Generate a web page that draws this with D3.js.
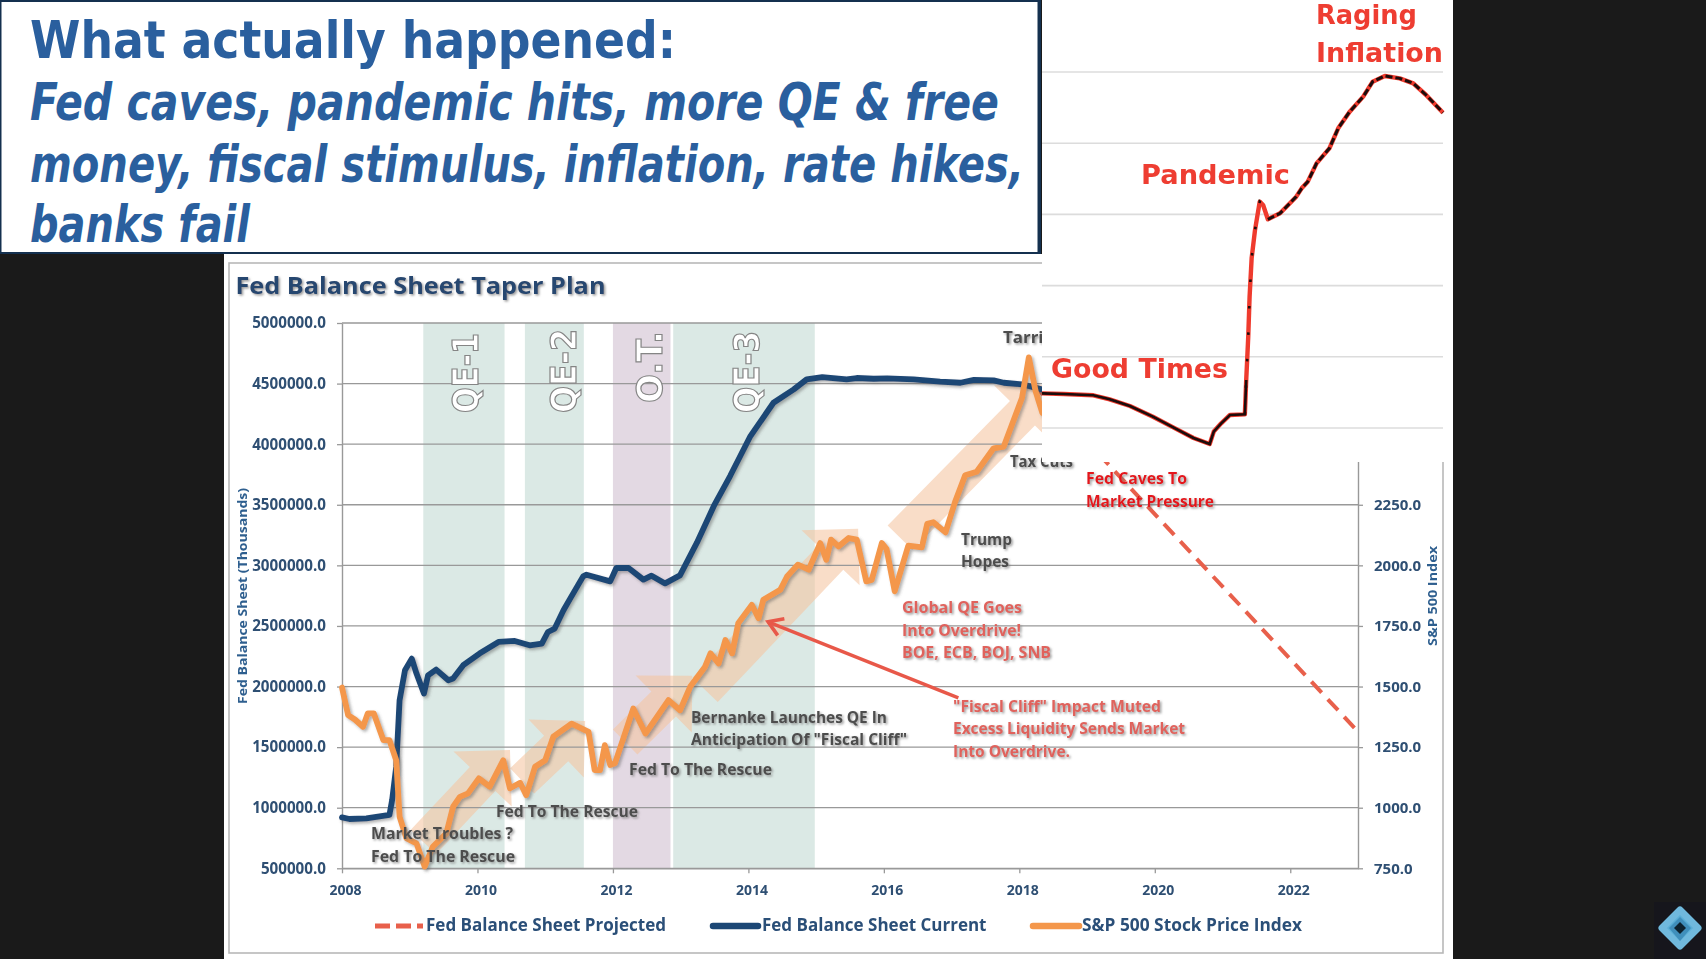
<!DOCTYPE html>
<html><head><meta charset="utf-8"><title>Fed Balance Sheet</title>
<script src="https://cdn.jsdelivr.net/npm/d3@7/dist/d3.min.js"></script>
<style>html,body{margin:0;padding:0;background:#1a1a1a;overflow:hidden}svg{display:block}</style>
</head><body><div id="c"></div>
<script>
// ---------- data ----------
const balanceYears=[2008,2008.11,2008.36,2008.7,2008.74,2008.8,2008.85,2008.93,2009.03,2009.1,2009.21,2009.27,2009.39,2009.57,2009.64,2009.79,2010.03,2010.31,2010.55,2010.77,2010.95,2011.04,2011.14,2011.27,2011.36,2011.56,2011.61,2011.96,2012.05,2012.23,2012.45,2012.57,2012.77,2012.99,2013.24,2013.49,2013.73,2014.03,2014.37,2014.67,2014.86,2015.09,2015.45,2015.6,2015.85,2016.05,2016.44,2016.83,2017.13,2017.33,2017.62,2017.77,2018.04,2018.33];
const balanceValues=[920,907,912,940,1063,1338,1887,2134,2230,2107,1942,2093,2140,2052,2066,2176,2272,2368,2376,2340,2354,2450,2478,2629,2717,2909,2923,2868,2978,2978,2882,2915,2851,2917,3187,3490,3737,4067,4342,4452,4535,4554,4535,4546,4540,4543,4535,4516,4507,4530,4527,4507,4494,4452];
const spYears=[2008,2008.09,2008.19,2008.31,2008.38,2008.47,2008.61,2008.7,2008.8,2008.85,2008.95,2009.1,2009.22,2009.34,2009.54,2009.64,2009.74,2009.86,2010.02,2010.18,2010.38,2010.48,2010.63,2010.72,2010.85,2011,2011.12,2011.39,2011.64,2011.73,2011.81,2011.88,2011.96,2012.03,2012.3,2012.48,2012.82,2012.99,2013.14,2013.36,2013.44,2013.56,2013.66,2013.76,2013.85,2014.05,2014.15,2014.22,2014.47,2014.57,2014.73,2014.89,2015.06,2015.15,2015.22,2015.33,2015.48,2015.6,2015.74,2015.82,2015.97,2016.04,2016.16,2016.24,2016.36,2016.56,2016.64,2016.73,2016.91,2017.05,2017.2,2017.37,2017.62,2017.77,2018.04,2018.14,2018.24,2018.34];
const spValues=[1496,1382,1364,1334,1389,1389,1279,1279,1196,963,874,853,757,839,894,1004,1045,1059,1121,1087,1196,1080,1103,1052,1169,1196,1293,1347,1313,1155,1155,1258,1176,1183,1409,1306,1444,1402,1499,1582,1637,1595,1692,1637,1761,1837,1782,1858,1899,1954,2003,1982,2092,2023,2106,2078,2113,2106,1934,1940,2092,2067,1893,1969,2081,2074,2171,2178,2136,2261,2372,2386,2483,2490,2692,2858,2719,2629];
const projectedYears=[2018.2,2023];
const projectedValues=[4500,1628];
const insetYears=[2018.34,2018.66,2019.1,2019.34,2019.64,2019.98,2020.28,2020.58,2020.82,2020.88,2020.99,2021.12,2021.34,2021.36,2021.39,2021.41,2021.44,2021.49,2021.56,2021.61,2021.68,2021.86,2022.1,2022.18,2022.27,2022.4,2022.59,2022.72,2022.89,2023.09,2023.23,2023.41,2023.63,2023.83,2024.02,2024.27];
const insetValues=[.487,.478,.459,.403,.309,.159,.009,-.14,-.225,-.05,.066,.183,.192,.674,1.283,1.845,2.383,2.781,3.179,3.132,2.931,3.015,3.249,3.366,3.46,3.717,3.928,4.209,4.443,4.654,4.864,4.944,4.911,4.841,4.677,4.429];
const insetGrid=[0,1,2,3,4,5];
const bandNames=["QE-1","QE-2","O.T.","QE-3"];
const bandStarts=[2009.2,2010.7,2012,2012.89];
const bandEnds=[2010.4,2011.57,2012.85,2014.98];
const trendTailYears=[2009.2,2010.66,2012.18,2013.36,2016.24];
const trendTailValues=[717,1221,1543,1972,3228];
const trendTipYears=[2010.48,2011.59,2013.17,2015.62,2018.46];
const trendTipValues=[1477,1716,2088,3302,4491];
const calloutYears=[2017.1,2014.29];
const calloutValues=[1906,2534];
const leftTicks=[500,1000,1500,2000,2500,3000,3500,4000,4500,5000];
const rightTicks=[750,1000,1250,1500,1750,2000,2250];
const yearTicks=[2008,2010,2012,2014,2016,2018,2020,2022];
const headlineLines=["What actually happened:","Fed caves, pandemic hits, more QE & free","money, fiscal stimulus, inflation, rate hikes,","banks fail"];
const legendNames=["Fed Balance Sheet Projected","Fed Balance Sheet Current","S&P 500 Stock Price Index"];

// ---------- scales ----------
const x=d3.scaleLinear().domain([2008,2023]).range([342,1358]);
const yL=d3.scaleLinear().domain([500,5000]).range([868.3,323]);
const yR=d3.scaleLinear().domain([750,3000]).range([868.3,323]);
const xIn=d3.scaleLinear().domain([2018.34,2024.27]).range([1042,1443]);
const yIn=d3.scaleLinear().domain([0,5]).range([428,72]);

const svg=d3.select("#c").append("svg").attr("width",1706).attr("height",959).attr("viewBox","0 0 1706 959");
const defs=svg.append("defs");
const soft=defs.append("filter").attr("id","soft").attr("filterUnits","userSpaceOnUse").attr("x",0).attr("y",0).attr("width",1706).attr("height",959);
soft.append("feGaussianBlur").attr("stdDeviation",.55);
const shadow=defs.append("filter").attr("id","shadow").attr("x","-10%").attr("y","-20%").attr("width","125%").attr("height","150%");
shadow.append("feDropShadow").attr("dx",1.5).attr("dy",1.5).attr("stdDeviation",1).attr("flood-color","#777").attr("flood-opacity",.75);
const lineShadow=defs.append("filter").attr("id","lineShadow").attr("filterUnits","userSpaceOnUse").attr("x",300).attr("y",250).attr("width",1100).attr("height",680);
lineShadow.append("feDropShadow").attr("dx",2).attr("dy",2).attr("stdDeviation",1.5).attr("flood-color","#555").attr("flood-opacity",.45);
defs.append("marker").attr("id","vee").attr("markerUnits","userSpaceOnUse").attr("markerWidth",30).attr("markerHeight",30).attr("refX",20).attr("refY",15).attr("orient","auto")
  .append("path").attr("d","M6,6 L20,15 L6,24").attr("fill","none").attr("stroke","#e8594a").attr("stroke-width",3.6);

svg.append("rect").attr("width",1706).attr("height",959).attr("fill","#1a1a1a");
svg.append("rect").attr("x",224).attr("y",254).attr("width",1229).attr("height",705).attr("fill","#fff");

const sans="'Open Sans','Noto Sans',sans-serif";
const g=svg.append("g").attr("filter","url(#soft)");
g.append("rect").attr("x",229).attr("y",263).attr("width",1214).attr("height",690).attr("fill","#fff").attr("stroke","#b8b8b8").attr("stroke-width",1.6);

function label(parent,txt,px,py,len,size,color,opts={}){
  const t=parent.append("text").attr("x",px).attr("y",py).text(txt)
    .attr("font-family",opts.family||sans).attr("font-weight",opts.weight||700).attr("font-size",size).attr("fill",color);
  if(len){t.attr("textLength",len).attr("lengthAdjust","spacingAndGlyphs");}
  if(opts.shadow)t.attr("filter","url(#shadow)");
  return t;
}

// title
label(g,"Fed Balance Sheet Taper Plan",235.5,294,370,24,"#27466f",{shadow:true});

// shaded programme bands
g.selectAll("rect.band").data(bandNames).join("rect").attr("class","band")
  .attr("x",(d,i)=>x(bandStarts[i])).attr("width",(d,i)=>x(bandEnds[i])-x(bandStarts[i]))
  .attr("y",yL(5000)).attr("height",yL(500)-yL(5000))
  .attr("fill",d=>d==="O.T."?"#e3d9e3":"#dbe9e5");

// trend arrows built from tail and tip
function fatArrow(i){
  const x0=x(trendTailYears[i]),y0=yL(trendTailValues[i]),x1=x(trendTipYears[i]),y1=yL(trendTipValues[i]);
  const L=Math.hypot(x1-x0,y1-y0),ux=(x1-x0)/L,uy=(y1-y0)/L,nx=-uy,ny=ux;
  const sw=17.5,hw=40,hl=40,bx=x1-ux*hl,by=y1-uy*hl;
  return [[x0+nx*sw,y0+ny*sw],[bx+nx*sw,by+ny*sw],[bx+nx*hw,by+ny*hw],[x1,y1],[bx-nx*hw,by-ny*hw],[bx-nx*sw,by-ny*sw],[x0-nx*sw,y0-ny*sw]];
}
g.selectAll("polygon.trend").data(trendTipYears).join("polygon").attr("class","trend")
  .attr("points",(d,i)=>fatArrow(i).join(" ")).attr("fill","#f5c5a0").attr("opacity",.58);

// grid
g.append("g").selectAll("line").data(leftTicks).join("line")
  .attr("x1",x(2008)).attr("x2",x(2023)).attr("y1",d=>yL(d)).attr("y2",d=>yL(d))
  .attr("stroke","#999").attr("stroke-width",1.3);

// axes
function styleAxis(sel,size){
  sel.selectAll("path.domain").attr("stroke","#999").attr("stroke-width",1.4);
  sel.selectAll(".tick line").attr("stroke","#999").attr("stroke-width",1.3);
  sel.selectAll("text").attr("font-family",sans).attr("font-weight",700).attr("font-size",size).attr("fill","#2f4f73");
}
const axL=g.append("g").attr("transform","translate(342,0)").call(d3.axisLeft(yL).tickValues(leftTicks).tickFormat(d=>d3.format(".1f")(d*1000)).tickSize(5).tickSizeOuter(0).tickPadding(11));
styleAxis(axL,15.2);
const axB=g.append("g").attr("transform","translate(0,868.3)").call(d3.axisBottom(x).tickValues(yearTicks).tickFormat(d3.format("d")).tickSize(5).tickSizeOuter(0).tickPadding(12));
styleAxis(axB,14);axB.selectAll("text").attr("dx",3);
const axR=g.append("g").attr("transform","translate(1358,0)").call(d3.axisRight(yR).tickValues(rightTicks).tickFormat(d3.format(".1f")).tickSize(5).tickSizeOuter(0).tickPadding(11));
styleAxis(axR,15);

label(g,"Fed Balance Sheet (Thousands)",0,0,216,13,"#2f5f8f").attr("text-anchor","middle").attr("transform","translate(247,596) rotate(-90)");
label(g,"S&P 500 Index",0,0,100,13,"#2f5f8f").attr("text-anchor","middle").attr("transform","translate(1437,596) rotate(-90)");

// band captions
const captionBase=[478,576,662,759],captionTop=[333,329,331,331],captionBottom=[413,413,403,413];
g.selectAll("text.cap").data(bandNames).join("text").attr("class","cap").text(d=>d)
  .attr("transform",(d,i)=>`translate(${captionBase[i]},${captionBottom[i]}) rotate(-90)`)
  .attr("font-family","'DejaVu Sans',sans-serif").attr("font-weight",700).attr("font-size",36)
  .attr("fill","#fff").attr("stroke","#858585").attr("stroke-width",1.2)
  .attr("textLength",(d,i)=>captionBottom[i]-captionTop[i]).attr("lengthAdjust","spacingAndGlyphs");

// series
const lineOf=(xs,ys,sx,sy)=>d3.line().x((d,i)=>sx(xs[i])).y((d,i)=>sy(ys[i])).curve(d3.curveLinear)(xs);
g.append("path").attr("d",lineOf(projectedYears,projectedValues,x,yL)).attr("fill","none").attr("stroke","#e8604c").attr("stroke-width",4).attr("stroke-dasharray","15 9");
g.append("path").attr("d",lineOf(balanceYears,balanceValues,x,yL)).attr("fill","none").attr("stroke","#1e4775").attr("stroke-width",5.8).attr("stroke-linejoin","round").attr("stroke-linecap","round").attr("filter","url(#lineShadow)");
g.append("path").attr("d",lineOf(spYears,spValues,x,yR)).attr("fill","none").attr("stroke","#f4974b").attr("stroke-width",5.8).attr("stroke-linejoin","round").attr("stroke-linecap","round").attr("filter","url(#lineShadow)");

// red callout
g.append("line").attr("x1",x(calloutYears[0])).attr("y1",yL(calloutValues[0])).attr("x2",x(calloutYears[1])).attr("y2",yL(calloutValues[1]))
  .attr("stroke","#e8594a").attr("stroke-width",3.4).attr("marker-end","url(#vee)");

// annotations
const grey="#4d4d4d",rose="#e0625c",red="#e4181c";
label(g,"Market Troubles ?",371,839,142,16,grey,{shadow:true});
label(g,"Fed To The Rescue",371,862,144,16,grey,{shadow:true});
label(g,"Fed To The Rescue",496,817,142,16,grey,{shadow:true});
label(g,"Fed To The Rescue",629,775,143,16,grey,{shadow:true});
label(g,"Bernanke Launches QE In",691,723,196,16,grey,{shadow:true});
label(g,'Anticipation Of "Fiscal Cliff"',691,745,216,16,grey,{shadow:true});
label(g,"Trump",961,545,51,16,grey,{shadow:true});
label(g,"Hopes",961,567,48,16,grey,{shadow:true});
label(g,"Tarriffs",1003,343,62,16,grey,{shadow:true});
label(g,"Tax Cuts",1010,467,63,16,grey,{shadow:true});
label(g,"Global QE Goes",902,613,120,16,rose,{shadow:true});
label(g,"Into Overdrive!",902,636,119,16,rose,{shadow:true});
label(g,"BOE, ECB, BOJ, SNB",902,658,149,16,rose,{shadow:true});
label(g,'"Fiscal Cliff" Impact Muted',953,712,208,16,rose,{shadow:true});
label(g,"Excess Liquidity Sends Market",953,734,232,16,rose,{shadow:true});
label(g,"Into Overdrive.",953,757,117,16,rose,{shadow:true});

// legend
g.append("line").attr("x1",375).attr("x2",423).attr("y1",926).attr("y2",926).attr("stroke","#e8604c").attr("stroke-width",5).attr("stroke-dasharray","15 6");
g.append("line").attr("x1",713).attr("x2",758).attr("y1",926).attr("y2",926).attr("stroke","#1e4775").attr("stroke-width",6.5).attr("stroke-linecap","round");
g.append("line").attr("x1",1033).attr("x2",1079).attr("y1",926).attr("y2",926).attr("stroke","#f4974b").attr("stroke-width",6.5).attr("stroke-linecap","round");
const legendX=[426,762,1082],legendLen=[240,224.5,220];
g.selectAll("text.leg").data(legendNames).join("text").attr("class","leg").text(d=>d)
  .attr("x",(d,i)=>legendX[i]).attr("y",931).attr("font-family",sans).attr("font-weight",700).attr("font-size",17).attr("fill","#2c4f78")
  .attr("textLength",(d,i)=>legendLen[i]).attr("lengthAdjust","spacingAndGlyphs");

// pasted inset chart
const ins=svg.append("g");
ins.append("rect").attr("x",1042).attr("y",0).attr("width",411).attr("height",462).attr("fill","#fff");
const insG=ins.append("g").attr("filter","url(#soft)");
insG.selectAll("line").data(insetGrid).join("line").attr("x1",1042).attr("x2",1443).attr("y1",d=>yIn(d)).attr("y2",d=>yIn(d)).attr("stroke","#dcdcdc").attr("stroke-width",1.6);
const insetLine=d3.line().x((d,i)=>xIn(insetYears[i])).y((d,i)=>yIn(insetValues[i]));
insG.append("path").attr("d",insetLine(insetYears)).attr("fill","none").attr("stroke","#ef3a2d").attr("stroke-width",4.4).attr("stroke-linejoin","round");
const seg=(f)=>d3.line().defined((d,i)=>f(insetYears[i])).x((d,i)=>xIn(insetYears[i])).y((d,i)=>yIn(insetValues[i]))(insetYears);
insG.append("path").attr("d",seg(v=>v<=2021.36)).attr("fill","none").attr("stroke","#1b0a08").attr("stroke-width",2.6);
insG.append("path").attr("d",seg(v=>v>=2021.34&&v<=2021.7)).attr("fill","none").attr("stroke","#1b0a08").attr("stroke-width",2.6).attr("stroke-dasharray","2.5 24");
insG.append("path").attr("d",seg(v=>v>=2021.68)).attr("fill","none").attr("stroke","#1b0a08").attr("stroke-width",3).attr("stroke-dasharray","7 3");
const dj="'DejaVu Sans',sans-serif";
label(insG,"Raging",1316,24,101,26,"#ee3d30",{family:dj});
label(insG,"Inflation",1316,62,127,26,"#ee3d30",{family:dj});
label(insG,"Pandemic",1141,184,149,26,"#ee3d30",{family:dj});
label(insG,"Good Times",1051,378,177,26,"#ee3d30",{family:dj});
label(insG,"Fed Caves To",1086,484,101,16,red,{shadow:true});
label(insG,"Market Pressure",1086,507,128,16,red,{shadow:true});

// headline box
const head=svg.append("g");
head.append("rect").attr("x",0).attr("y",0).attr("width",1041).attr("height",254).attr("fill","#14304f");
head.append("rect").attr("x",1.5).attr("y",2).attr("width",1036).attr("height",250).attr("fill","#fff");
const headX=[30,30,30,30],headY=[58,120,182,242],headLen=[646,969,994,220],headStyle=["normal","italic","italic","italic"];
head.selectAll("text").data(headlineLines).join("text").text(d=>d)
  .attr("x",(d,i)=>headX[i]).attr("y",(d,i)=>headY[i]).attr("font-family",dj).attr("font-weight",700)
  .attr("font-size",51).attr("fill","#2a5f9e").attr("font-style",(d,i)=>headStyle[i])
  .attr("textLength",(d,i)=>headLen[i]).attr("lengthAdjust","spacingAndGlyphs");

// corner logo
const logo=svg.append("g").attr("filter","url(#soft)");
logo.append("rect").attr("x",1654).attr("y",902).attr("width",52).attr("height",57).attr("fill","#13181d");
logo.append("polygon").attr("points","1680,910 1698,928 1680,946 1662,928").attr("fill","#5aaed6").attr("stroke","#6fb9dd").attr("stroke-width",7).attr("stroke-linejoin","round");
logo.append("polygon").attr("points","1669,928 1680,917 1691,928 1680,941").attr("fill","#3f8fbb");
logo.append("polygon").attr("points","1680,922 1686,928 1680,934 1674,928").attr("fill","#10222f");
</script></body></html>
